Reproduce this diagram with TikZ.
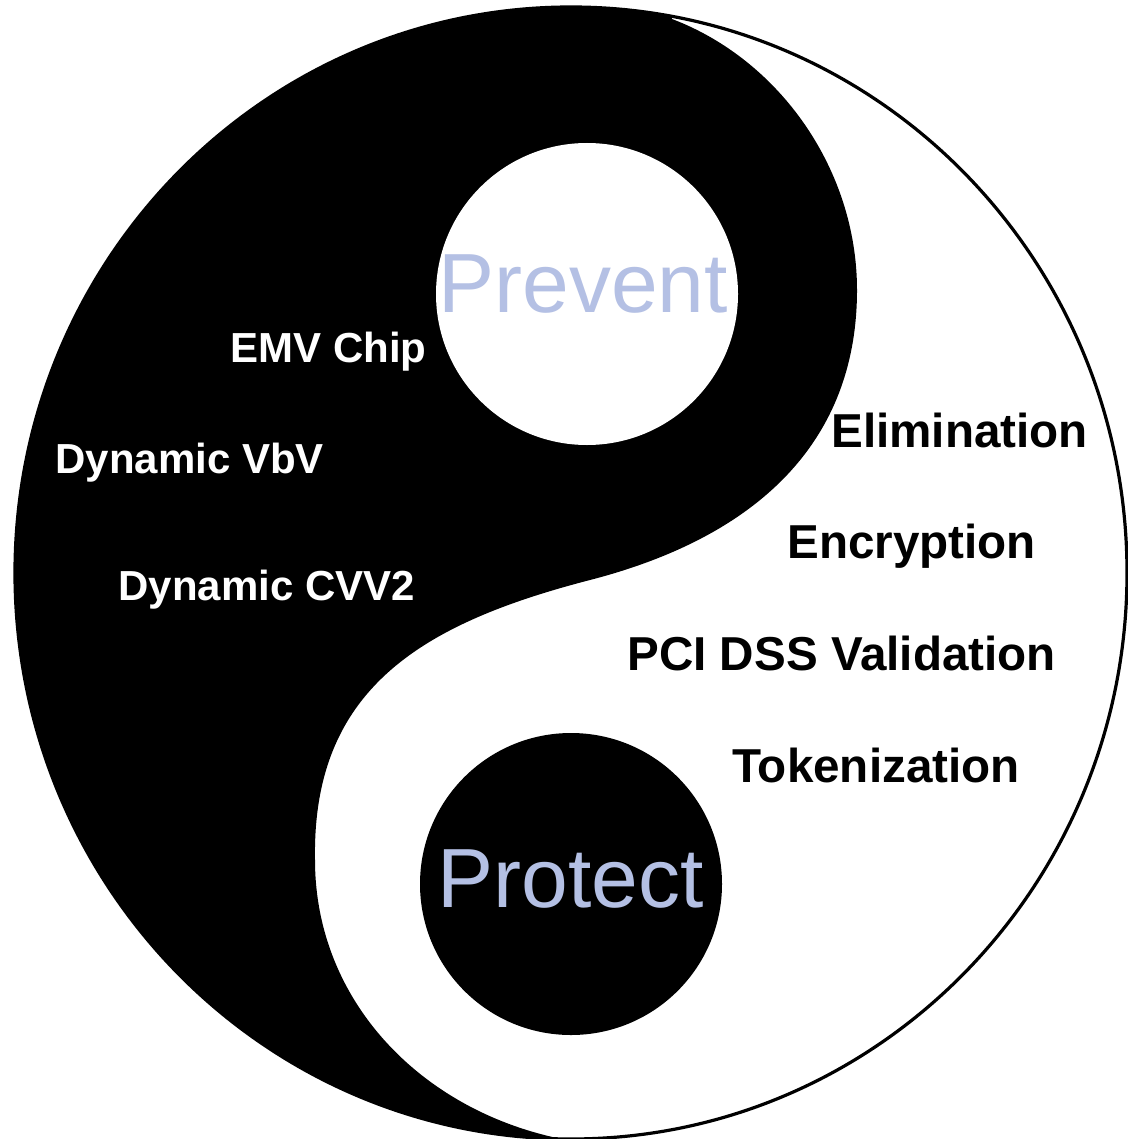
\documentclass[tikz,border=0pt]{standalone}
\usepackage{fontspec}
\setmainfont{Liberation Sans}
\definecolor{lav}{RGB}{180,192,228}
\begin{document}
\begin{tikzpicture}[x=0.5pt,y=-0.5pt,
  whitelbl/.style={text=white, font=\fontsize{21}{25}\selectfont\bfseries, inner sep=0pt, anchor=base west},
  blacklbl/.style={text=black, font=\fontsize{23.8}{28}\selectfont\bfseries, inner sep=0pt, anchor=base west},
  biglbl/.style={text=lav, font=\fontsize{42}{50}\selectfont, inner sep=0pt, anchor=base west},
  dot/.style={circle, inner sep=0pt, minimum size=151pt}]
\useasboundingbox (0,0) rectangle (1128,1139);
\fill[white] (0,0) rectangle (1128,1139);
\coordinate (c) at (571,573);
\fill[black] (c) ++(280.4:556 and 566)
  arc[start angle=280.4, end angle=91, x radius=556, y radius=566]
  .. controls (420,1110) and (315,1000) .. (315,860)
  .. controls (312,690) and (420,624) .. (590,580)
  .. controls (760,536) and (857,440) .. (857,290)
  .. controls (857,170) and (780,60) .. (672,19) -- cycle;
\draw[line width=1.6pt] (c) ellipse[x radius=556, y radius=566];
\node[dot, fill=white] (wdot) at (587,294) {};
\node[dot, fill=black] (bdot) at (571,884) {};
\node[biglbl] (prevent) at (438,312) {Prevent};
\node[biglbl] (protect) at (437,907) {Protect};
\node[whitelbl] (emv) at (230,362) {EMV Chip};
\node[whitelbl] (vbv) at (55,473) {Dynamic VbV};
\node[whitelbl] (cvv) at (118,600) {Dynamic CVV2};
\node[blacklbl] (elim) at (831,447) {Elimination};
\node[blacklbl] (enc) at (787,558) {Encryption};
\node[blacklbl] (pci) at (627,670) {PCI DSS Validation};
\node[blacklbl] (tok) at (732,782) {Tokenization};
\end{tikzpicture}
\end{document}
